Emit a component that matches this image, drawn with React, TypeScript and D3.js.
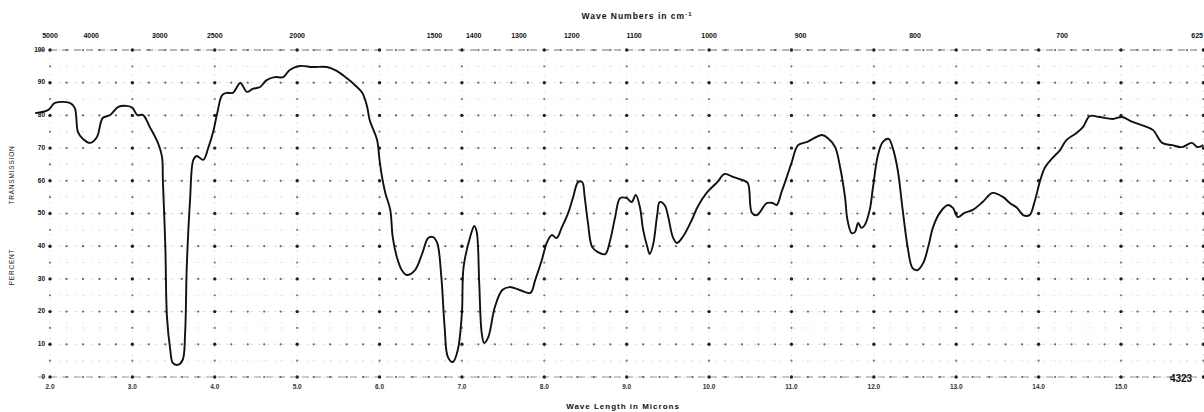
import React from 'react';
import * as d3 from 'd3';

// spectrum trace: wavelength (microns) and percent transmission
const wavelength = [
  1.82, 1.98, 2.06, 2.24, 2.3, 2.34, 2.4, 2.49, 2.57, 2.64, 2.73, 2.83, 2.93, 3.0, 3.06, 3.13,
  3.21, 3.31, 3.36, 3.37, 3.4, 3.42, 3.46, 3.49, 3.55, 3.61, 3.64, 3.66, 3.7, 3.74, 3.78, 3.86,
  3.92, 3.98, 4.03, 4.09, 4.15, 4.22, 4.31, 4.39, 4.46, 4.55, 4.63, 4.73, 4.83, 4.91, 5.03, 5.19,
  5.36, 5.48, 5.6, 5.7, 5.79, 5.85, 5.88, 5.97, 6.0, 6.03, 6.07, 6.13, 6.16, 6.21, 6.27, 6.33,
  6.43, 6.52, 6.59, 6.65, 6.7, 6.75, 6.79, 6.83, 6.89, 6.95, 7.0, 7.02, 7.1, 7.15, 7.18, 7.21,
  7.24, 7.27, 7.32, 7.4, 7.49, 7.58, 7.7, 7.83, 7.89, 7.97, 8.03, 8.09, 8.15, 8.21, 8.29, 8.35,
  8.41, 8.46, 8.49, 8.53, 8.58, 8.65, 8.74, 8.8, 8.86, 8.92, 9.0, 9.06, 9.11, 9.16, 9.2, 9.25,
  9.28, 9.32, 9.37, 9.4, 9.46, 9.5, 9.56, 9.61, 9.68, 9.79, 9.86, 9.97, 10.1, 10.19, 10.29, 10.41,
  10.47, 10.52, 10.58, 10.62, 10.7, 10.77, 10.82, 10.88, 10.94, 11.0, 11.08, 11.19, 11.28, 11.37,
  11.44, 11.53, 11.59, 11.65, 11.68, 11.73, 11.77, 11.81, 11.85, 11.89, 11.95, 11.99, 12.05, 12.11,
  12.18, 12.23, 12.29, 12.35, 12.41, 12.47, 12.53, 12.6, 12.66, 12.72, 12.8, 12.9, 12.96, 13.02,
  13.1, 13.2, 13.32, 13.44, 13.57, 13.65, 13.74, 13.81, 13.89, 13.95, 14.02, 14.08, 14.17, 14.26,
  14.34, 14.46, 14.54, 14.62, 14.74, 14.9, 15.01, 15.14, 15.31, 15.39, 15.5, 15.62, 15.74, 15.86,
  15.93, 16.0,
];
const transmission = [
  80.7, 81.7, 83.8, 83.8, 82.3, 74.9, 72.8, 71.6, 73.4, 79.2, 80.1, 82.6, 82.9, 82.3, 80.1, 80.1,
  76.5, 71.6, 67.3, 60.2, 39.8, 18.3, 8.3, 4.3, 3.7, 5.2, 13.5, 33.6, 54.1, 66.4, 67.6, 66.4,
  70.0, 74.9, 80.7, 86.2, 86.9, 86.9, 89.9, 87.2, 88.1, 88.7, 90.8, 91.7, 91.7, 93.9, 95.1, 94.8,
  94.8, 93.6, 91.4, 89.3, 86.9, 82.6, 78.6, 72.5, 66.4, 61.2, 56.3, 51.1, 42.8, 36.7, 32.7, 31.2,
  32.7, 37.9, 42.5, 42.8, 41.0, 30.6, 15.3, 6.1, 4.6, 8.3, 19.6, 33.6, 42.8, 46.2, 44.3, 28.7,
  13.5, 10.4, 12.2, 21.4, 26.6, 27.5, 26.6, 25.7, 29.7, 35.8, 41.0, 43.4, 42.5, 45.6, 50.2, 55.0,
  59.6, 59.6, 55.0, 47.1, 39.8, 38.2, 37.6, 41.9, 48.9, 54.7, 54.7, 53.5, 55.7, 52.0, 45.0, 39.8,
  37.6, 40.4, 49.5, 53.5, 52.6, 49.5, 42.8, 41.0, 42.8, 48.0, 52.0, 56.3, 59.6, 62.1, 61.2, 60.2,
  59.3, 50.2, 49.5, 50.5, 53.2, 53.2, 52.6, 56.6, 60.9, 65.4, 70.9, 71.9, 73.1, 74.0,
  73.1, 70.3, 64.2, 55.0, 48.0, 44.0, 44.3, 47.1, 45.6, 46.5, 51.1, 58.1, 67.9, 71.9,
  72.8, 70.0, 63.3, 51.1, 39.8, 33.3, 32.7, 34.9, 39.8, 45.9, 50.2, 52.6, 51.7, 48.9,
  50.2, 51.1, 53.5, 56.3, 55.0, 53.2, 51.7, 49.5, 49.5, 53.5, 60.2, 64.2, 67.0, 69.4,
  72.5, 74.6, 76.5, 79.8, 79.5, 78.9, 79.5, 78.0, 76.5, 75.5, 71.6, 70.9, 70.3, 71.6,
  70.3, 70.9,
];

const wavenumberTicks = [5000, 4000, 3000, 2500, 2000, 1500, 1400, 1300, 1200, 1100, 1000, 900, 800, 700, 625];
const wavelengthTicks = [2, 3, 4, 5, 6, 7, 8, 9, 10, 11, 12, 13, 14, 15];
const percentTicks = [0, 10, 20, 30, 40, 50, 60, 70, 80, 90, 100];

const W = 1204;
const H = 412;

export default function App() {
  const x = d3.scaleLinear().domain([2, 15]).range([50, 1121]);
  const y = d3.scaleLinear().domain([0, 100]).range([377, 50]);

  const points: [number, number][] = wavelength.map((w, i) => [w, transmission[i]]);
  const path = d3
    .line<[number, number]>()
    .x((d) => x(d[0]))
    .y((d) => y(d[1]))
    .curve(d3.curveCatmullRom.alpha(0.5))(points);

  // grid positions
  const minorX = d3.range(2, 16.01, 0.2).map((v) => +v.toFixed(1));
  const minorY = d3.range(0, 100.01, 5);
  const isMajorX = (v: number) => Math.abs(v - Math.round(v)) < 0.01;
  const isMajorY = (v: number) => v % 10 === 0;

  const dots: JSX.Element[] = [];
  minorY.forEach((pv) => {
    minorX.forEach((wv) => {
      const mx = isMajorX(wv);
      const my = isMajorY(pv);
      let r = 0;
      let fill = '#999';
      if (mx && my) {
        r = 1.7;
        fill = '#222';
      } else if (my) {
        r = 1.1;
        fill = '#666';
      } else if (mx) {
        r = 1.1;
        fill = '#777';
      } else {
        r = 0.6;
        fill = '#ccc';
      }
      dots.push(<circle key={`d${wv}-${pv}`} cx={x(wv)} cy={y(pv)} r={r} fill={fill} />);
    });
  });

  const font = 'Liberation Sans, Arial, sans-serif';

  return (
    <svg
      width={W}
      height={H}
      style={{ position: 'absolute', left: 0, top: 0, background: '#fff' }}
      fontFamily={font}
    >
      {/* faint grid lines */}
      {minorY.map((pv) => (
        <line
          key={`h${pv}`}
          x1={x(2)}
          x2={W}
          y1={y(pv)}
          y2={y(pv)}
          stroke={isMajorY(pv) ? '#d8d8d8' : '#eeeeee'}
          strokeWidth={0.8}
          strokeDasharray="3,5"
        />
      ))}
      {minorX.map((wv) => (
        <line
          key={`v${wv}`}
          x1={x(wv)}
          x2={x(wv)}
          y1={y(100)}
          y2={y(0)}
          stroke={isMajorX(wv) ? '#dcdcdc' : '#f0f0f0'}
          strokeWidth={0.8}
          strokeDasharray="2,6"
        />
      ))}
      {/* top and bottom border rules */}
      <line x1={x(2) - 12} x2={W} y1={y(100)} y2={y(100)} stroke="#777" strokeWidth={1} strokeDasharray="7,5" />
      <line x1={x(2) - 12} x2={W} y1={y(0)} y2={y(0)} stroke="#999" strokeWidth={1} strokeDasharray="7,5" />
      {dots}

      {/* wave number scale on top */}
      {wavenumberTicks.map((n) => {
        const px = x(10000 / n);
        const edge = px > W - 12;
        return (
          <text
            key={`wn${n}`}
            x={edge ? W - 1 : px}
            y={38}
            textAnchor={edge ? 'end' : 'middle'}
            fontSize={7}
            fontWeight="bold"
            fill="#111"
          >
            {n}
          </text>
        );
      })}
      <text x={637} y={19} textAnchor="middle" fontSize={8.5} fontWeight="bold" letterSpacing={1} fill="#111">
        Wave Numbers in cm
        <tspan fontSize={6} dy={-3}>-1</tspan>
      </text>

      {/* wavelength scale on bottom */}
      {wavelengthTicks.map((w) => (
        <text key={`wl${w}`} x={x(w)} y={389} textAnchor="middle" fontSize={6.5} fontWeight="bold" fill="#333">
          {w.toFixed(1)}
        </text>
      ))}
      <text x={623} y={409} textAnchor="middle" fontSize={8} fontWeight="bold" letterSpacing={1} fill="#111">
        Wave Length in Microns
      </text>

      {/* percent scale */}
      {percentTicks.map((p) => (
        <text
          key={`p${p}`}
          x={45}
          y={y(p)}
          textAnchor="end"
          dominantBaseline="middle"
          fontSize={6.5}
          fontWeight="bold"
          fill="#111"
        >
          {p}
        </text>
      ))}
      <text
        transform="translate(14,175) rotate(-90)"
        textAnchor="middle"
        fontSize={6.5}
        letterSpacing={0.8}
        fill="#222"
      >
        TRANSMISSION
      </text>
      <text
        transform="translate(14,267) rotate(-90)"
        textAnchor="middle"
        fontSize={6.5}
        letterSpacing={0.8}
        fill="#222"
      >
        PERCENT
      </text>

      {/* spectrum */}
      <path d={path ?? ''} fill="none" stroke="#111" strokeWidth={1.9} strokeLinejoin="round" />

      <text x={1181} y={382} textAnchor="middle" fontSize={10} fontWeight="bold" fill="#111">
        4323
      </text>
    </svg>
  );
}
